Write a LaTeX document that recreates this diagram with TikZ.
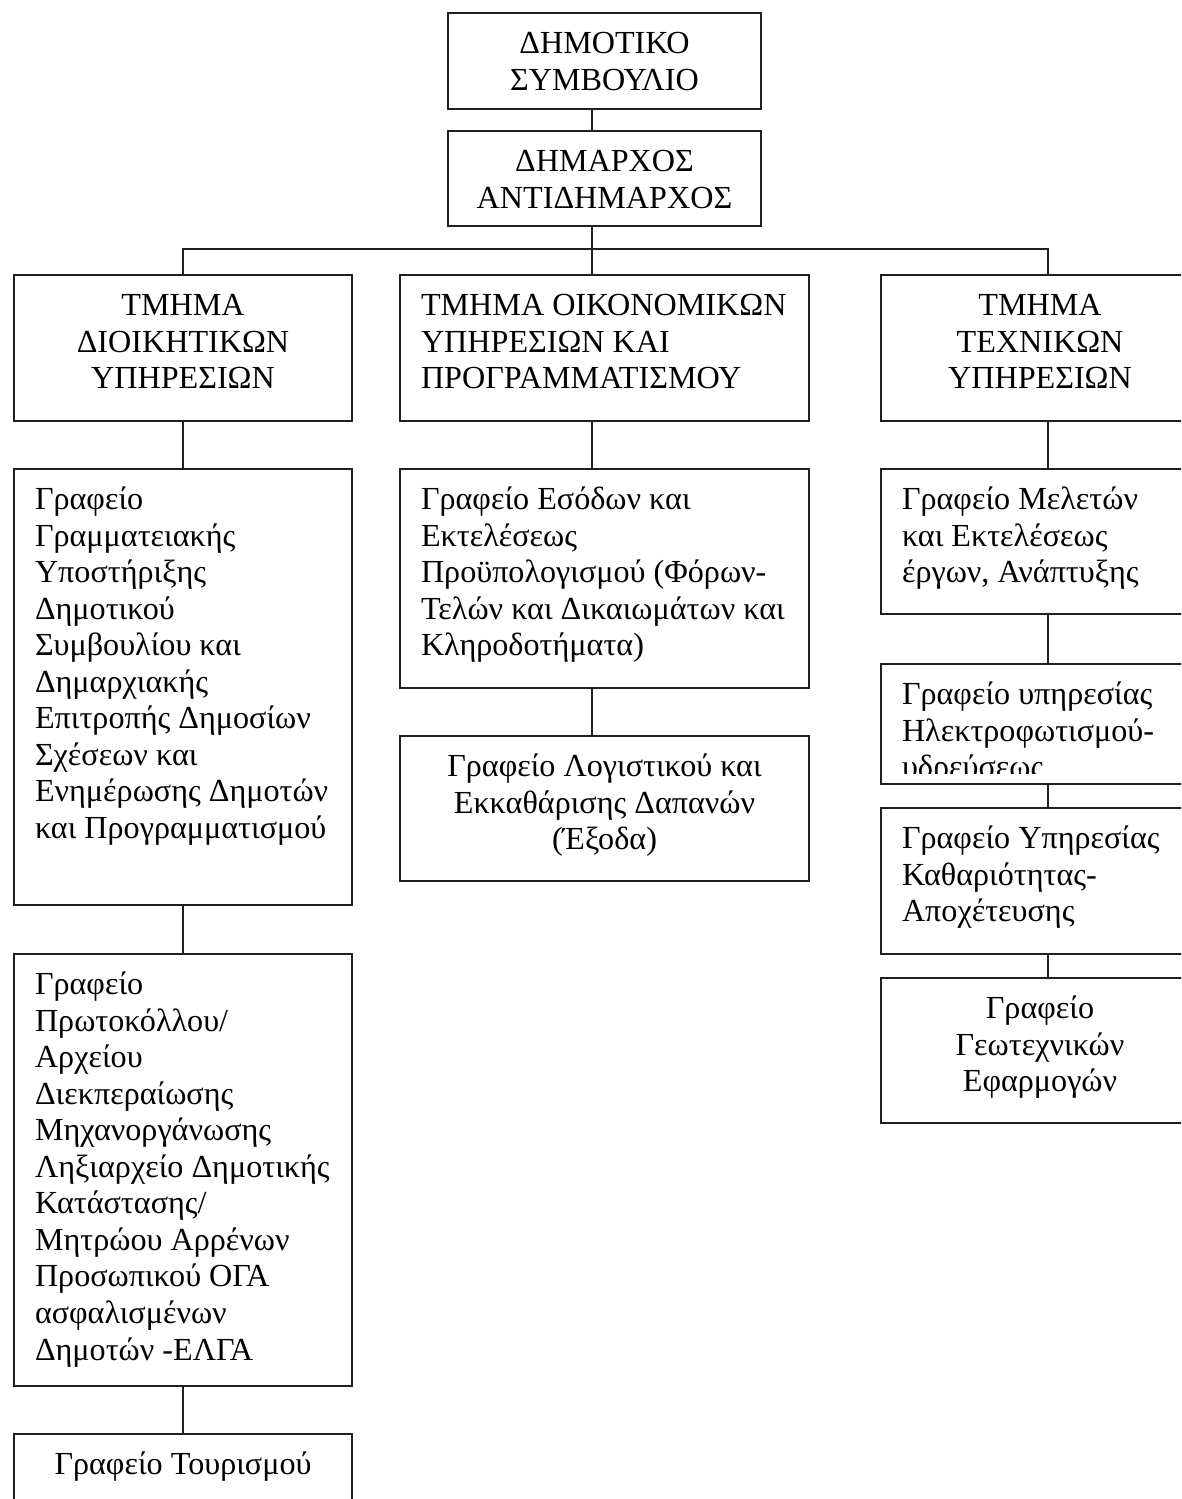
\documentclass[tikz,border=0pt]{standalone}
\usepackage{fontspec}
\setmainfont{Liberation Serif}

% one drawing unit
\newdimen\px \px=0.02cm

% fixed-size text block: #1 width, #2 height (units), #3 paragraph alignment,
% #4 column type, #5 lines
\newcommand\boxtext[5]{%
  \parbox[t][\dimexpr #2\px-30\px\relax][t]{\dimexpr #1\px-42\px\relax}{%
    #3\begin{tabular}[t]{@{}#4@{}}#5\end{tabular}}}

\tikzset{
  orgbox/.style={draw=black!88, line width=1.15pt, inner xsep=0.42cm, inner ysep=0.3cm,
    anchor=north west, font=\fontsize{18.3pt}{20.8pt}\selectfont, text=black},
  frame/.style={draw=black!88, line width=1.15pt, inner sep=0pt, anchor=north west},
  link/.style={draw=black!88, line width=1.15pt},
}

\begin{document}
\begin{tikzpicture}[x=0.02cm, y=-0.02cm]
\useasboundingbox (0,0) rectangle (1181,1499);
\clip (0,0) rectangle (1181,1499);
\fill[white] (0,0) rectangle (1181,1499);

% top levels
\node[orgbox] (council) at (447,12)
  {\boxtext{313}{96}{\centering}{c}{ΔΗΜΟΤΙΚΟ\\ΣΥΜΒΟΥΛΙΟ}};
\node[orgbox] (mayor) at (447,130)
  {\boxtext{313}{95}{\centering}{c}{ΔΗΜΑΡΧΟΣ\\ΑΝΤΙΔΗΜΑΡΧΟΣ}};

% departments
\node[orgbox] (admin) at (13,274)
  {\boxtext{338}{146}{\centering}{c}{ΤΜΗΜΑ\\ΔΙΟΙΚΗΤΙΚΩΝ\\ΥΠΗΡΕΣΙΩΝ}};
\node[orgbox] (fin) at (399,274)
  {\boxtext{409}{146}{\raggedright}{l}{ΤΜΗΜΑ ΟΙΚΟΝΟΜΙΚΩΝ\\ΥΠΗΡΕΣΙΩΝ ΚΑΙ\\ΠΡΟΓΡΑΜΜΑΤΙΣΜΟΥ}};
\node[orgbox] (tech) at (880,274)
  {\boxtext{318}{146}{\centering}{c}{ΤΜΗΜΑ\\ΤΕΧΝΙΚΩΝ\\ΥΠΗΡΕΣΙΩΝ}};

% administrative offices
\node[orgbox] (secretariat) at (13,468)
  {\boxtext{338}{436}{\raggedright}{l}{Γραφείο\\Γραμματειακής\\Υποστήριξης\\Δημοτικού\\Συμβουλίου και\\Δημαρχιακής\\Επιτροπής Δημοσίων\\Σχέσεων και\\Ενημέρωσης Δημοτών\\και Προγραμματισμού}};
\node[orgbox] (registry) at (13,953)
  {\boxtext{338}{432}{\raggedright}{l}{Γραφείο\\Πρωτοκόλλου/\\Αρχείου\\Διεκπεραίωσης\\Μηχανοργάνωσης\\Ληξιαρχείο Δημοτικής\\Κατάστασης/\\Μητρώου Αρρένων\\Προσωπικού ΟΓΑ\\ασφαλισμένων\\Δημοτών -ΕΛΓΑ}};
\node[orgbox] (tourism) at (13,1433)
  {\boxtext{338}{146}{\centering}{c}{Γραφείο Τουρισμού}};

% financial offices
\node[orgbox] (revenue) at (399,468)
  {\boxtext{409}{219}{\raggedright}{l}{Γραφείο Εσόδων και\\Εκτελέσεως\\Προϋπολογισμού (Φόρων-\\Τελών και Δικαιωμάτων και\\Κληροδοτήματα)}};
\node[orgbox] (accounting) at (399,735)
  {\boxtext{409}{145}{\centering}{c}{Γραφείο Λογιστικού και\\Εκκαθάρισης Δαπανών\\(Έξοδα)}};

% technical offices
\node[orgbox] (studies) at (880,468)
  {\boxtext{318}{145}{\raggedright}{l}{Γραφείο Μελετών\\και Εκτελέσεως\\έργων, Ανάπτυξης}};
\node[frame, minimum width=6.36cm, minimum height=2.4cm] (elec) at (880,663) {};
\begin{scope}
  \clip (880,663) rectangle (1198,773);
  \node[orgbox, draw=none] (electext) at (880,663)
    {\boxtext{318}{120}{\raggedright}{l}{Γραφείο υπηρεσίας\\Ηλεκτροφωτισμού-\\υδρεύσεως}};
\end{scope}
\node[orgbox] (cleaning) at (880,807)
  {\boxtext{318}{146}{\raggedright}{l}{Γραφείο Υπηρεσίας\\Καθαριότητας-\\Αποχέτευσης}};
\node[orgbox] (geotech) at (880,977)
  {\boxtext{318}{145}{\centering}{c}{Γραφείο\\Γεωτεχνικών\\Εφαρμογών}};

% connector lines
\coordinate (spine) at (592,0);
\coordinate (techx) at (1048,0);
\coordinate (bar) at (0,249);

\draw[link] (council.south -| spine) -- (mayor.north -| spine);
\draw[link] (mayor.south -| spine) -- (fin.north -| spine);
\draw[link] (admin.north) |- (bar -| techx) -- (tech.north -| techx);

\draw[link] (admin.south) -- (secretariat.north);
\draw[link] (secretariat.south) -- (registry.north);
\draw[link] (registry.south) -- (tourism.north);

\draw[link] (fin.south -| spine) -- (revenue.north -| spine);
\draw[link] (revenue.south -| spine) -- (accounting.north -| spine);

\draw[link] (tech.south -| techx) -- (studies.north -| techx);
\draw[link] (studies.south -| techx) -- (elec.north -| techx);
\draw[link] (elec.south -| techx) -- (cleaning.north -| techx);
\draw[link] (cleaning.south -| techx) -- (geotech.north -| techx);
\end{tikzpicture}
\end{document}
